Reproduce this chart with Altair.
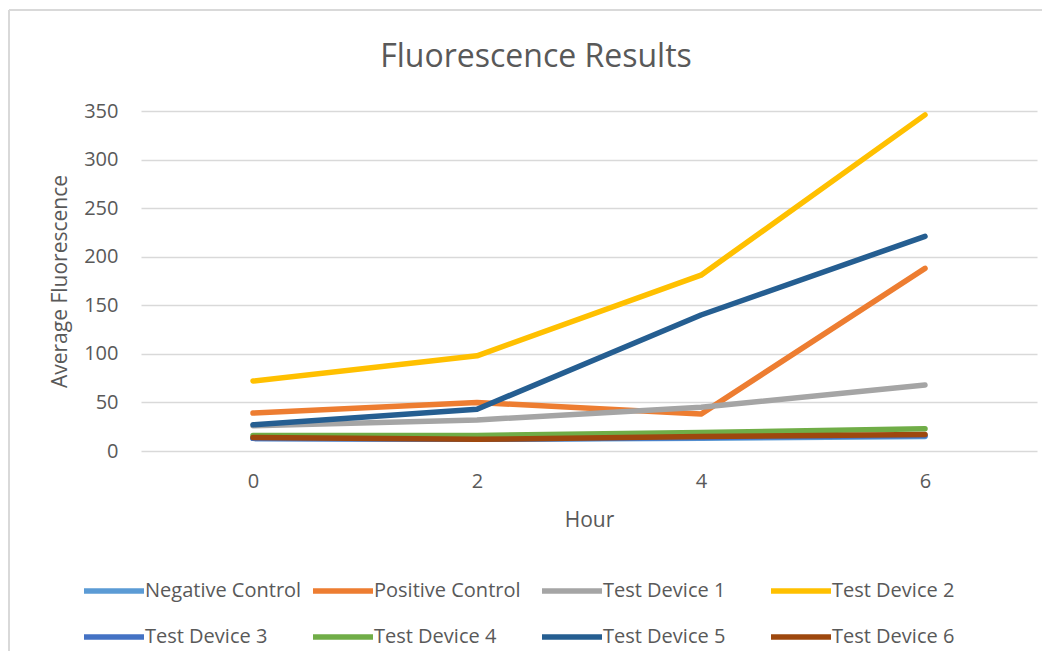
import altair as alt
import pandas as pd

hours = [0, 2, 4, 6]
series_names = ["Negative Control", "Positive Control", "Test Device 1", "Test Device 2",
                "Test Device 3", "Test Device 4", "Test Device 5", "Test Device 6"]
negative_control = [13, 12, 13, 15]
positive_control = [39, 50, 38, 188]
test_device_1 = [26, 32, 45, 68]
test_device_2 = [72, 98, 181, 346]
test_device_3 = [13, 12, 14, 16]
test_device_4 = [16, 16, 19, 23]
test_device_5 = [27, 43, 140, 221]
test_device_6 = [14, 12, 15, 17]
colors = ["#5B9BD5", "#ED7D31", "#A5A5A5", "#FFC000", "#4472C4", "#70AD47", "#255E91", "#9E480E"]

all_values = [negative_control, positive_control, test_device_1, test_device_2,
              test_device_3, test_device_4, test_device_5, test_device_6]
rows = []
for i, (name, vals) in enumerate(zip(series_names, all_values)):
    for h, v in zip(hours, vals):
        rows.append({"Series": name, "Hour": h, "Value": v, "idx": i})
df = pd.DataFrame(rows)

FONT = "Open Sans"
TXT = "#595959"

lines = alt.Chart(df).mark_line(strokeWidth=5.5, strokeCap="round", strokeJoin="round").encode(
    x=alt.X("Hour:Q", scale=alt.Scale(domain=[-1, 7], nice=False, zero=False),
            axis=alt.Axis(values=hours, grid=False, domain=False, ticks=False,
                          labelPadding=20, titlePadding=18, title="Hour")),
    y=alt.Y("Value:Q", scale=alt.Scale(domain=[0, 350], nice=False),
            axis=alt.Axis(values=[0, 50, 100, 150, 200, 250, 300, 350], domain=False, ticks=False,
                          labelPadding=23, titlePadding=13, title="Average Fluorescence",
                          gridColor="#D9D9D9", gridWidth=1.5)),
    color=alt.Color("Series:N", scale=alt.Scale(domain=series_names, range=colors),
                    legend=alt.Legend(title=None, orient="none", legendX=-45, legendY=462,
                                      direction="horizontal", columns=4,
                                      symbolType="M-2,0H2", symbolSize=900,
                                      symbolStrokeWidth=5.5, gridAlign="all",
                                      columnPadding=0, rowPadding=17, labelOffset=13)),
    detail="idx:O",
    order="idx:Q",
)

# decorative chart-area frame (top and left edges, as in the reference)
frame_top = alt.Chart(df).mark_rule(color="#D9D9D9", strokeWidth=2).encode(
    x=alt.value(-132), x2=alt.value(905), y=alt.value(-101))
frame_left = alt.Chart(df).mark_rule(color="#D9D9D9", strokeWidth=2).encode(
    x=alt.value(-132), y=alt.value(-101), y2=alt.value(545))

chart = alt.layer(frame_top, frame_left, lines).properties(
    width=896, height=340,
    title=alt.TitleParams("Fluorescence Results", fontSize=32, font=FONT, color=TXT,
                          fontWeight="normal", offset=0, dy=65, dx=-53),
    autosize=alt.AutoSizeParams(type="none"),
    padding={"left": 133, "top": 103, "right": 5, "bottom": 200},
    background="white",
).configure_view(stroke=None).configure_axis(
    labelFont=FONT, labelFontSize=20, labelColor=TXT,
    titleFont=FONT, titleFontSize=21, titleColor=TXT, titleFontWeight="normal",
).configure_legend(labelFont=FONT, labelFontSize=20, labelColor=TXT, labelLimit=300)

chart.save("out.html", embed_options={"renderer": "svg", "actions": False})
